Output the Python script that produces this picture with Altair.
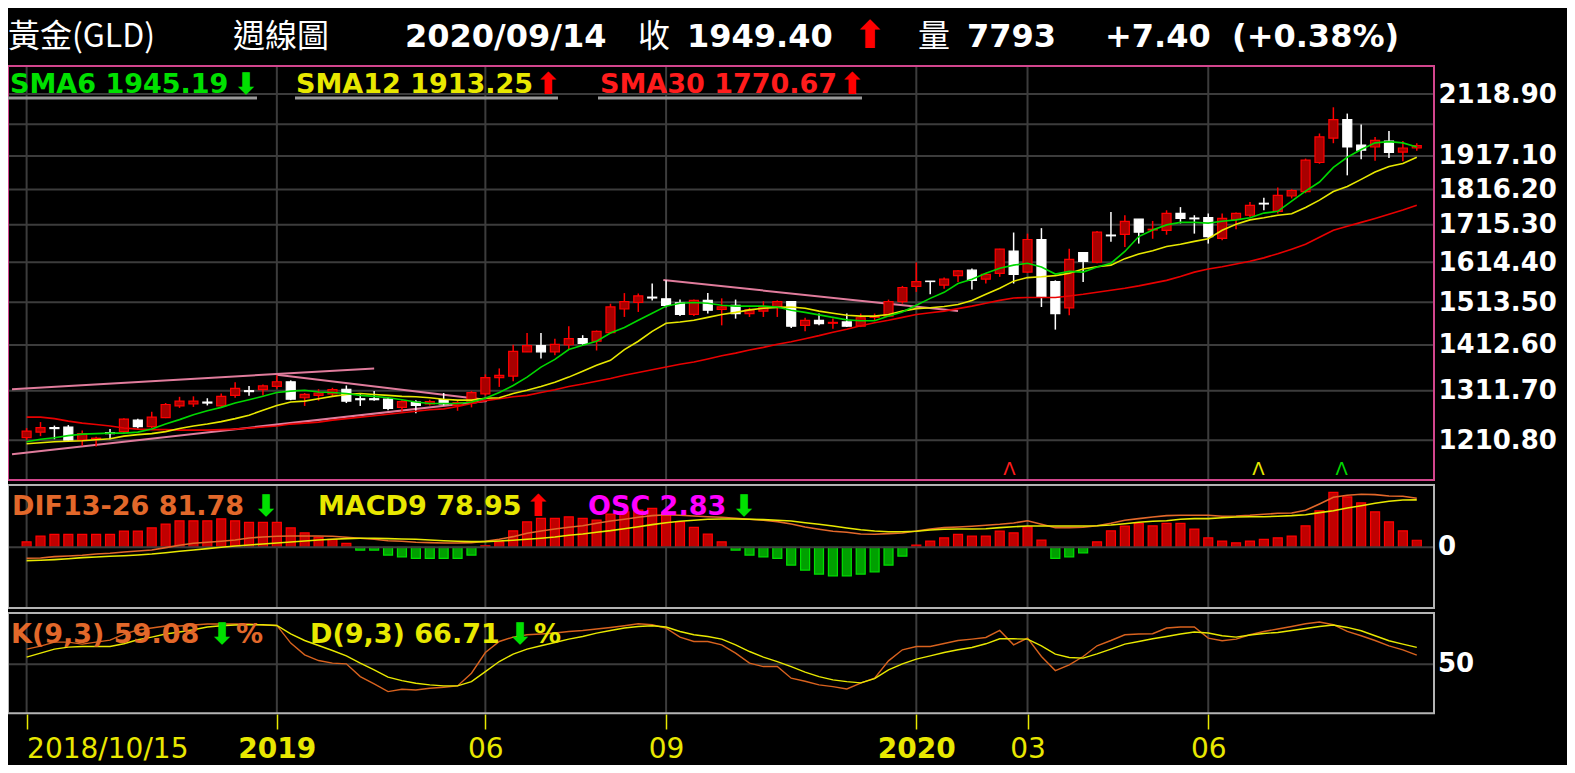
import altair as alt
import pandas as pd

# ---------------- data ----------------
idx = list(range(101))
opens = [1216,1227,1236,1237,1211,1213,1226,1228,1251,1238,
         1256,1280,1284,1288,1280,1302,1312,1314,1321,1331,
         1297,1302,1305,1315,1295,1295,1294,1277,1288,1284,
         1293,1281,1287,1305,1340,1343,1397,1411,1397,1413,
         1427,1421,1441,1497,1513,1526,1522,1512,1484,1518,
         1496,1506,1486,1492,1501,1515,1458,1470,1463,1466,
         1456,1477,1480,1515,1553,1566,1556,1580,1594,1571,
         1586,1644,1589,1675,1565,1500,1640,1615,1687,1689,
         1731,1701,1700,1747,1734,1735,1678,1730,1742,1776,
         1753,1797,1810,1897,1973,2033,1951,1945,1964,1929,
         1942]
highs = [1235,1247,1240,1241,1230,1218,1233,1255,1254,1268,
         1286,1299,1300,1296,1306,1330,1322,1325,1345,1334,
         1307,1315,1318,1323,1306,1311,1298,1292,1292,1293,
         1307,1292,1311,1347,1360,1413,1440,1440,1427,1456,
         1435,1446,1510,1536,1535,1560,1568,1520,1520,1536,
         1523,1520,1500,1516,1518,1516,1476,1486,1474,1486,
         1486,1486,1520,1554,1614,1566,1575,1594,1598,1586,
         1650,1694,1691,1706,1568,1650,1640,1698,1751,1742,
         1731,1726,1756,1765,1742,1747,1747,1750,1780,1792,
         1822,1817,1909,1988,2074,2053,2017,1977,1996,1964,
         1957]
lows = [1211,1219,1213,1208,1200,1199,1213,1225,1234,1235,
        1255,1276,1278,1281,1278,1297,1301,1302,1316,1292,
        1280,1291,1299,1286,1280,1291,1271,1268,1265,1281,
        1281,1270,1277,1302,1320,1332,1397,1382,1389,1402,
        1412,1400,1439,1478,1490,1518,1501,1480,1480,1486,
        1458,1474,1478,1478,1478,1452,1444,1458,1450,1454,
        1454,1470,1478,1510,1539,1533,1547,1564,1545,1560,
        1577,1560,1587,1502,1448,1482,1564,1612,1669,1655,
        1664,1677,1688,1719,1691,1664,1673,1703,1737,1756,
        1747,1790,1805,1893,1957,1858,1907,1902,1911,1901,
        1933]
closes = [1229,1236,1234,1211,1224,1215,1224,1253,1238,1257,
          1283,1290,1290,1286,1300,1317,1310,1322,1331,1294,
          1304,1307,1314,1290,1293,1293,1275,1289,1281,1289,
          1284,1287,1308,1340,1345,1398,1411,1397,1414,1427,
          1416,1444,1502,1515,1529,1524,1506,1484,1518,1494,
          1502,1486,1495,1502,1515,1456,1470,1462,1465,1456,
          1476,1479,1515,1550,1565,1565,1571,1592,1568,1583,
          1649,1583,1675,1527,1486,1622,1617,1695,1685,1725,
          1695,1703,1747,1733,1732,1683,1733,1747,1770,1774,
          1799,1813,1904,1977,2033,1945,1935,1966,1928,1942,
          1949.4]
sma6 = [1208,1213,1216,1220,1223,1224,1225,1225,1227,1233,
        1243,1252,1262,1270,1277,1286,1293,1300,1308,1311,
        1313,1309,1308,1306,1302,1300,1297,1293,1288,1285,
        1285,1285,1288,1296,1308,1323,1341,1363,1380,1402,
        1412,1421,1440,1453,1470,1487,1504,1511,1513,1511,
        1506,1504,1504,1504,1502,1494,1489,1483,1477,1471,
        1469,1469,1480,1490,1506,1523,1538,1560,1571,1586,
        1599,1607,1612,1602,1584,1591,1589,1602,1612,1643,
        1683,1701,1715,1722,1722,1720,1725,1729,1735,1748,
        1753,1782,1811,1838,1882,1913,1937,1958,1962,1958,
        1945.19]
sma12 = [1204,1206,1208,1209,1210,1212,1214,1219,1222,1224,
         1228,1234,1239,1243,1248,1254,1261,1271,1281,1288,
         1290,1295,1300,1304,1306,1304,1302,1300,1299,1297,
         1294,1292,1292,1296,1297,1306,1313,1321,1330,1341,
         1354,1367,1378,1402,1421,1444,1463,1466,1470,1477,
         1484,1489,1495,1499,1501,1502,1499,1492,1487,1482,
         1480,1480,1484,1492,1498,1500,1503,1508,1518,1533,
         1548,1566,1575,1577,1580,1586,1597,1603,1607,1624,
         1636,1645,1656,1662,1670,1677,1700,1717,1729,1735,
         1742,1746,1764,1785,1810,1825,1846,1868,1885,1894,
         1913.25]
sma30 = [1257,1257,1254,1249,1245,1242,1239,1235,1233,1232,
         1232,1231,1231,1231,1232,1233,1235,1237,1239,1243,
         1245,1247,1251,1254,1257,1260,1263,1266,1269,1272,
         1274,1279,1285,1291,1295,1299,1302,1308,1314,1321,
         1326,1332,1338,1345,1351,1357,1363,1369,1374,1381,
         1388,1394,1401,1407,1414,1420,1427,1434,1442,1449,
         1457,1464,1470,1477,1484,1488,1492,1498,1504,1511,
         1518,1524,1525,1525,1525,1529,1533,1538,1543,1548,
         1554,1561,1568,1578,1589,1597,1603,1610,1617,1626,
         1637,1649,1662,1681,1700,1711,1722,1733,1745,1757,
         1770.67]
osc = [2.2,4.5,5.2,5.2,5.2,5.2,5.2,6.5,6.5,7.8,
       9.3,10.6,10.6,10.6,11.4,10.6,10,10,10,7.8,
       5.8,4,3.2,1.6,-1.1,-1.1,-3.1,-3.8,-4.4,-4.4,
       -4.4,-4.4,-3.1,0.6,2.2,6.6,10.2,11.6,11.6,12.2,
       11.6,10.9,13.3,14.2,14.9,15.6,14,10.2,8,5.3,
       2.2,-1.1,-3.1,-3.8,-4.4,-7.1,-9.1,-10.7,-11.4,-11.4,
       -10.7,-9.8,-7.1,-3.5,0.9,2.5,3.8,5.2,4.5,4.5,
       6.5,5.8,8.2,2.9,-4.4,-3.8,-2.2,2.2,6.6,8.5,
       9.6,8.6,9.6,9.6,7.3,3.8,2.5,1.8,2.5,3.2,
       3.8,4.5,8.6,14.6,22,20.2,17.8,14.2,10.2,6.6,
       2.83]
dif = [-18.3,-17.8,-15.6,-14.5,-13.4,-11.2,-10,-7.8,-6.2,-4.5,
       -0.6,3.3,6.7,8.3,10,12.2,15.5,17.2,18.3,18.8,
       18.8,18.8,18.3,16.7,15,13.3,11,10,8.3,7.7,
       7.2,7.2,7.7,10,13.3,17.7,23.3,27.2,30.5,33.3,
       36,40,43.8,46.7,50,52.7,54.3,53.3,52.2,51,
       50,48.3,46.7,45,42.7,38.8,33.8,30,26.7,25,
       22.2,21.7,22.7,23.8,27.2,30.5,32.7,33.8,35,36.7,
       38.3,40.5,44.3,38.3,32.7,32.7,33.3,36,40,45,
       47.7,50.5,52.7,53.3,53.3,53.3,51.7,52.2,53.3,55,
       56.7,57.2,61.7,72.2,83.3,86.7,88.3,87.7,85.5,85,
       81.78]
macd = [-22.3,-21.7,-20.6,-19,-17.3,-16.2,-15,-14,-12.8,-11.2,
        -9,-6.7,-4.5,-2.3,0,2.2,3.8,5.5,7.2,8.8,
        10.5,12.2,13.3,14.4,15,15,14.4,13.8,13.3,12.2,
        11,10,9.4,9.4,10.5,11.7,13.3,15,17.2,20,
        22.2,25,27.7,31,34.3,37.7,41,43.3,45,46.7,
        47.2,47.2,46.7,46.1,45,43.8,41,38.3,35.5,32.2,
        29.3,27.2,26,26,26.7,28.8,30,30.5,30.5,31,
        32.7,34.3,35.5,35.5,35.5,35.5,35.5,36,37.2,39.3,
        41.7,43.3,44.3,46.7,47.7,47.7,49.3,50.5,51,51,
        51.7,52.7,54.3,57.7,61,65.5,69.3,73.3,76.7,78.8,
        78.95]
k_vals = [65,68,72,72,70,72,74,80,84,86,
          88,88,89,90,90,90,90,89,88.6,71,
          59.3,53.6,51,50.3,37.6,30.3,22.6,25,24.3,26,
          27,28.3,41,61.6,72.6,77,79.3,80,81,82.6,
          83.6,85,86.6,88.3,90.3,89.3,86,77,72.6,72.6,
          69.3,61,51,47.6,47.6,36,33,29.3,27.6,25.3,
          31,36,53.3,64.3,67.6,67.6,70.6,73.6,75,76.6,
          83.6,69.3,76,57.6,43.6,49.3,57.6,68.3,73.6,79.3,
          80,80.3,86,87,87,76,73.3,75,79.3,82.6,
          85,87.6,90.3,92,89.3,82.6,78.3,73.6,68.3,64.3,
          59.08]
d_vals = [57,61,65,67,67.6,67.6,67.6,70.3,74.3,77,
          80,82,84.3,87,88.3,89,89.3,89.3,88.6,80.3,
          73.6,68.6,63.6,58.3,51,44.3,37,33.6,31,29.3,
          28.3,28.3,32.6,42.6,52.6,60,65,68.3,71.6,75,
          77.6,81,83.6,86,87.6,88.3,87,82.6,79.3,77.6,
          75,69.3,62.6,57,52.6,47.6,42,37.6,34.3,32.6,
          31.3,35.6,44.3,50.3,55,58.3,61.6,64.3,66.6,70.3,
          75.3,75.3,75,68.3,60,56.6,56,60.3,65,70,
          72.6,75.3,77.6,80,82,81,78.3,77,79,80.6,
          81.6,83.6,85.6,87.6,89,86.6,83.3,78.3,73.3,70,
          66.71]

tick_idx = [0, 18, 33, 46, 64, 72, 85]
tick_text = ["2018/10/15", "2019", "06", "09", "2020", "03", "06"]
bold_ticks = [18, 64]

price_grid = [1210.8, 1311.7, 1412.6, 1513.5, 1614.4, 1715.3, 1816.2, 1917.1, 2018.0, 2118.9]
price_labels = [1210.8, 1311.7, 1412.6, 1513.5, 1614.4, 1715.3, 1816.2, 1917.1, 2118.9]

trend_id = [1, 1, 2, 2, 3, 3, 4, 4]
trend_idx = [-1.05, 25.0, -1.05, 33.1, 18.0, 32.7, 45.8, 67.0]
trend_price = [1315, 1360, 1184, 1290, 1346, 1294, 1569, 1492]

signal_idx = [70.7, 88.6, 94.6]
signal_kind = ["SMA30", "SMA12", "SMA6"]

# ---------------- styling / layout ----------------
W, H = 1426, 648
MAIN = (0, 414)
MACDP = (419, 542)
KDP = (547, 647.3)
GRID = "#3c3c3c"
PINK = "#d2468d"
PANEL = "#b4b4b4"
GREEN = "#00d800"
YELLOW = "#e8e800"
RED = "#ff1c1c"
ORANGE = "#e2682a"
FONT = "DejaVu Sans"
CJK = "Noto Sans CJK TC"
LAB = 27   # size of the indicator legends
ARW = 30   # size of the little arrows
DOWN = "⬇"
UP = "⬆"

df = pd.DataFrame({"idx": idx, "open": opens, "high": highs, "low": lows, "close": closes,
                   "sma6": sma6, "sma12": sma12, "sma30": sma30,
                   "osc": osc, "dif": dif, "macd": macd, "k": k_vals, "d": d_vals})
ticks_df = pd.DataFrame({"t": tick_idx})
one = pd.DataFrame({"z": [0]})

label_expr = " : ".join(f"datum.value == {i} ? '{t}'" for i, t in zip(tick_idx, tick_text)) + " : ''"
bold_test = " || ".join(f"datum.value == {i}" for i in bold_ticks)

xscale = alt.Scale(domain=[-0.979, 100.879], nice=False, zero=False)
xaxis = alt.Axis(values=tick_idx, labelExpr=label_expr, title=None, grid=False, domain=False,
                 tickColor=YELLOW, tickSize=15, tickWidth=1.5, tickOffset=0,
                 labelColor=YELLOW, labelFont=FONT, labelFontSize=28, labelPadding=6,
                 labelOverlap=False, labelFlush=False,
                 labelFontWeight={"condition": {"test": bold_test, "value": "bold"}, "value": "normal"},
                 labelAlign={"condition": {"test": "datum.value == 0", "value": "left"}, "value": "center"})


def X(field):
    return alt.X(f"{field}:Q", scale=xscale, axis=xaxis, title=None)


pscale = alt.Scale(type="log", domain=[1135.6, 2217.1], range=[MAIN[1], MAIN[0]], nice=False, zero=False)
paxis = alt.Axis(orient="right", values=price_labels, format=".2f", ticks=False, domain=False, grid=False,
                 labelColor="white", labelFont=FONT, labelFontWeight="bold", labelFontSize=26,
                 labelPadding=4, labelOverlap=False, title=None)


def PY(field):
    return alt.Y(f"{field}:Q", scale=pscale, axis=paxis, title=None)


def text(t, x, y, color, size=LAB, weight="bold", font=FONT, align="left"):
    return alt.Chart(one).mark_text(text=t, align=align, baseline="alphabetic", font=font,
                                    fontSize=size, fontWeight=weight, color=color).encode(
        x=alt.value(x), y=alt.value(y))


def frame(y0, y1, color, w=2):
    return alt.Chart(one).mark_rect(filled=False, stroke=color, strokeWidth=w).encode(
        x=alt.value(0), x2=alt.value(W), y=alt.value(y0), y2=alt.value(y1))


def vgrid(y0, y1):
    return alt.Chart(ticks_df).mark_rule(color=GRID, strokeWidth=2).encode(
        x=X("t"), y=alt.value(y0), y2=alt.value(y1))


def uline(x0, x1, y):
    return alt.Chart(one).mark_rule(color="#9a9a9a", strokeWidth=3).encode(
        x=alt.value(x0), x2=alt.value(x1), y=alt.value(y))


up = "datum.close >= datum.open"

# ---------------- main price panel ----------------
pgrid = alt.Chart(pd.DataFrame({"p": price_grid})).mark_rule(color=GRID, strokeWidth=2).encode(
    y=PY("p"), x=alt.value(0), x2=alt.value(W))
trend = alt.Chart(pd.DataFrame({"id": trend_id, "i": trend_idx, "p": trend_price})).mark_line(
    color="#e07c9c", strokeWidth=2).encode(x=X("i"), y=PY("p"), detail="id:N")
wick = alt.Chart(df).mark_rule(strokeWidth=1.5).encode(
    x=X("idx"), y=PY("low"), y2="high:Q",
    color=alt.condition(up, alt.value("#ff0000"), alt.value("#ffffff")))
body = alt.Chart(df).mark_bar(size=9, strokeWidth=1.2).encode(
    x=X("idx"), y=PY("open"), y2="close:Q",
    fill=alt.condition(up, alt.value("#a80000"), alt.value("#ffffff")),
    stroke=alt.condition(up, alt.value("#ff0000"), alt.value("#ffffff")))
l30 = alt.Chart(df).mark_line(color="#e80000", strokeWidth=1.6).encode(x=X("idx"), y=PY("sma30"))
l12 = alt.Chart(df).mark_line(color=YELLOW, strokeWidth=1.6).encode(x=X("idx"), y=PY("sma12"))
l6 = alt.Chart(df).mark_line(color=GREEN, strokeWidth=1.6).encode(x=X("idx"), y=PY("sma6"))
signals = alt.Chart(pd.DataFrame({"i": signal_idx, "kind": signal_kind})).mark_text(
    text="Λ", font=FONT, fontSize=18, baseline="bottom").encode(
    x=X("i"), y=alt.value(MAIN[1] - 1),
    color=alt.Color("kind:N", scale=alt.Scale(domain=["SMA6", "SMA12", "SMA30"],
                                              range=[GREEN, YELLOW, RED]), legend=None))

main = alt.layer(pgrid, vgrid(*MAIN), trend, wick, body, l30, l12, l6, signals)

# ---------------- MACD panel ----------------
bscale = alt.Scale(domain=[-24.28, 24.92], range=[MACDP[1], MACDP[0]], nice=False, zero=False)
lscale = alt.Scale(domain=[-101.2, 103.8], range=[MACDP[1], MACDP[0]], nice=False, zero=False)
bars = alt.Chart(df).mark_bar(size=9, strokeWidth=1.2).encode(
    x=X("idx"), y=alt.Y("osc:Q", scale=bscale, axis=None), y2=alt.datum(0),
    fill=alt.condition("datum.osc >= 0", alt.value("#c00000"), alt.value("#00a000")),
    stroke=alt.condition("datum.osc >= 0", alt.value("#ff0000"), alt.value("#00e000")))
zero_df = pd.DataFrame({"v": [0], "lab": ["0"]})
zline = alt.Chart(zero_df).mark_rule(color=GRID, strokeWidth=2).encode(
    y=alt.Y("v:Q", scale=lscale, axis=None), x=alt.value(0), x2=alt.value(W))
zlab = alt.Chart(zero_df).mark_text(align="left", baseline="middle", font=FONT, fontSize=26,
                                    fontWeight="bold", color="white").encode(
    y=alt.Y("v:Q", scale=lscale, axis=None), x=alt.value(W + 4), text="lab:N")
difl = alt.Chart(df).mark_line(color=ORANGE, strokeWidth=1.6).encode(
    x=X("idx"), y=alt.Y("dif:Q", scale=lscale, axis=None))
macdl = alt.Chart(df).mark_line(color=YELLOW, strokeWidth=1.6).encode(
    x=X("idx"), y=alt.Y("macd:Q", scale=lscale, axis=None))
macd_bars = alt.layer(vgrid(*MACDP), bars)
macd_lines = alt.layer(zline, zlab, difl, macdl)

# ---------------- KD panel ----------------
kscale = alt.Scale(domain=[1, 101], range=[KDP[1], KDP[0]], nice=False, zero=False)
fifty = pd.DataFrame({"v": [50], "lab": ["50"]})
kgrid = alt.Chart(fifty).mark_rule(color=GRID, strokeWidth=2).encode(
    y=alt.Y("v:Q", scale=kscale, axis=None), x=alt.value(0), x2=alt.value(W))
klab = alt.Chart(fifty).mark_text(align="left", baseline="middle", font=FONT, fontSize=26,
                                  fontWeight="bold", color="white").encode(
    y=alt.Y("v:Q", scale=kscale, axis=None), x=alt.value(W + 4), text="lab:N")
kl = alt.Chart(df).mark_line(color="#d8621e", strokeWidth=1.4).encode(
    x=X("idx"), y=alt.Y("k:Q", scale=kscale, axis=None))
dl = alt.Chart(df).mark_line(color=YELLOW, strokeWidth=1.4).encode(
    x=X("idx"), y=alt.Y("d:Q", scale=kscale, axis=None))
kd = alt.layer(vgrid(*KDP), kgrid, klab, kl, dl)

# ---------------- frames and texts ----------------
deco = alt.layer(
    frame(MAIN[0], MAIN[1], PINK),
    frame(MACDP[0], MACDP[1], PANEL),
    frame(KDP[0], KDP[1], PANEL),
    # title
    text("黃金(GLD)", 0, -19, "white", size=32, weight="normal", font=CJK),
    text("週線圖", 225, -19, "white", size=32, weight="normal", font=CJK),
    text("2020/09/14", 397, -19, "white", size=32),
    text("收", 630, -19, "white", size=32, weight="normal", font=CJK),
    text("1949.40", 679, -19, "white", size=32),
    text(UP, 862, -18, "#ff0000", size=38, align="center"),
    text("量", 910, -19, "white", size=32, weight="normal", font=CJK),
    text("7793", 959, -19, "white", size=32),
    text("+7.40", 1097, -19, "white", size=32),
    text("(+0.38%)", 1224, -19, "white", size=32),
    # SMA legend
    text("SMA6 1945.19", 2, 27, "#00e000"),
    text(DOWN, 238, 28, "#00e000", size=ARW, align="center"),
    text("SMA12 1913.25", 288, 27, YELLOW),
    text(UP, 540, 28, "#ff0000", size=ARW, align="center"),
    text("SMA30 1770.67", 592, 27, RED),
    text(UP, 844, 28, "#ff0000", size=ARW, align="center"),
    uline(0, 249, 32),
    uline(287, 550, 32),
    uline(590, 854, 32),
    # MACD legend
    text("DIF13-26 81.78", 4, 449, ORANGE),
    text(DOWN, 258, 450, "#00e000", size=ARW, align="center"),
    text("MACD9 78.95", 310, 449, YELLOW),
    text(UP, 530, 450, "#ff0000", size=ARW, align="center"),
    text("OSC 2.83", 580, 449, "#ff00ff"),
    text(DOWN, 736, 450, "#00e000", size=ARW, align="center"),
    # KD legend
    text("K(9,3) 59.08", 3, 577, ORANGE),
    text(DOWN, 214, 578, "#00e000", size=ARW, align="center"),
    text("%", 228, 577, ORANGE),
    text("D(9,3) 66.71", 302, 577, YELLOW),
    text(DOWN, 512, 578, "#00e000", size=ARW, align="center"),
    text("%", 526, 577, YELLOW),
)

chart = alt.layer(main, macd_bars, macd_lines, kd, deco).resolve_scale(
    y="independent", color="independent", fill="independent", stroke="independent"
).properties(
    width=W, height=H,
    padding={"left": 0, "top": 58, "right": 133, "bottom": 51},
    autosize=alt.AutoSizeParams(type="none"),
).configure(background="black").configure_view(stroke=None)

chart.save("out.html", embed_options={"renderer": "svg", "actions": False})
